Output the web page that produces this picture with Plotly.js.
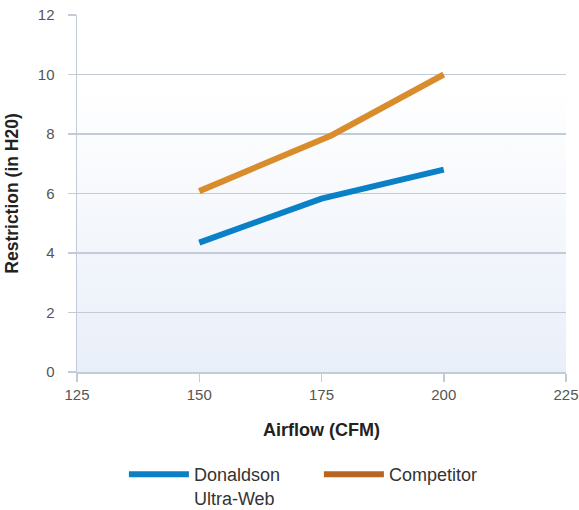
<!DOCTYPE html>
<html>
<head>
<meta charset="utf-8">
<script src="https://cdn.plot.ly/plotly-3.0.1.min.js"></script>
<style>html,body{margin:0;padding:0;background:#fff;}#chart{width:579px;height:510px;}</style>
</head>
<body>
<div id="chart"></div>
<script>
const airflowDonaldson = [150, 175, 200];
const restrictionDonaldson = [4.35, 5.83, 6.8];
const airflowCompetitor = [150, 177, 200];
const restrictionCompetitor = [6.08, 7.95, 10.0];
const seriesNames = ['Donaldson<br>Ultra-Web', 'Competitor'];
const xTicks = [125, 150, 175, 200, 225];
const yTicks = [0, 2, 4, 6, 8, 10, 12];

const blue = '#0a80c6';
const orange = '#d98c2b';
const orangeLegend = '#b8651f';

const gradSvg = '<svg xmlns="http://www.w3.org/2000/svg" width="10" height="100" preserveAspectRatio="none">' +
  '<defs><linearGradient id="g" x1="0" y1="0" x2="0" y2="1">' +
  '<stop offset="0" stop-color="#ffffff"/><stop offset="0.2" stop-color="#ffffff"/>' +
  '<stop offset="1" stop-color="#e9eff9"/></linearGradient></defs>' +
  '<rect width="10" height="100" fill="url(#g)"/></svg>';
const gradUrl = 'data:image/svg+xml;charset=utf-8,' + encodeURIComponent(gradSvg);

const traces = [
  {x: airflowDonaldson, y: restrictionDonaldson, mode: 'lines', line: {color: blue, width: 6}, showlegend: false, hoverinfo: 'skip'},
  {x: airflowCompetitor, y: restrictionCompetitor, mode: 'lines', line: {color: orange, width: 6}, showlegend: false, hoverinfo: 'skip'},
  {x: [null], y: [null], mode: 'lines', name: seriesNames[0], line: {color: blue, width: 6}},
  {x: [null], y: [null], mode: 'lines', name: seriesNames[1], line: {color: orangeLegend, width: 6}}
];

const layout = {
  width: 579, height: 510,
  margin: {l: 77, r: 13, t: 15, b: 138, autoexpand: false},
  paper_bgcolor: '#ffffff',
  plot_bgcolor: 'rgba(0,0,0,0)',
  font: {family: '"Liberation Sans", Arial, sans-serif', size: 15, color: '#555'},
  showlegend: true,
  images: [{source: gradUrl, xref: 'paper', yref: 'paper', x: 0, y: 1, sizex: 1, sizey: 1,
    sizing: 'stretch', xanchor: 'left', yanchor: 'top', layer: 'below'}],
  xaxis: {
    range: [125, 225], tickvals: xTicks, ticktext: xTicks.map(String),
    showgrid: false, zeroline: false, showline: true, linecolor: '#c3ccd6', linewidth: 1.5,
    ticks: 'outside', ticklen: 8, tickcolor: '#c3ccd6', tickwidth: 1.5,
    tickfont: {size: 15, color: '#555'},
    title: {text: 'Airflow (CFM)', font: {size: 18, color: '#222', weight: 'bold'}, standoff: 22},
    fixedrange: true
  },
  yaxis: {
    range: [0, 12], tickvals: yTicks, ticktext: yTicks.map(String),
    showgrid: true, gridcolor: '#c3ccd6', gridwidth: 1.5, zeroline: false,
    showline: true, linecolor: '#c3ccd6', linewidth: 1.5,
    ticks: 'outside', ticklen: 8, tickcolor: '#c3ccd6', tickwidth: 1.5,
    ticklabelstandoff: 10,
    tickfont: {size: 15, color: '#555'},
    title: {text: 'Restriction (in H20)', font: {size: 17.5, color: '#222', weight: 'bold'}, standoff: 14},
    fixedrange: true
  },
  legend: {
    orientation: 'h', xref: 'container', yref: 'container', x: 0.214, xanchor: 'left', y: 0.106, yanchor: 'top',
    font: {size: 18, color: '#333'}, tracegroupgap: 0, itemwidth: 60, entrywidth: 120,
    valign: 'top'
  }
};

Plotly.newPlot('chart', traces, layout, {displayModeBar: false, staticPlot: true});
</script>
</body>
</html>
